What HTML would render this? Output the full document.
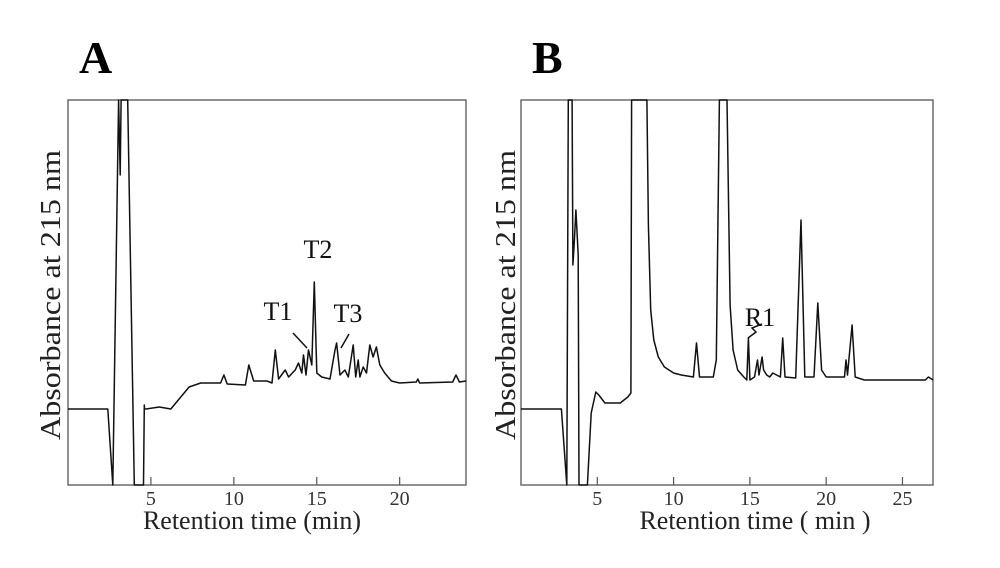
<!DOCTYPE html>
<html><head><meta charset="utf-8"><style>
html,body{margin:0;padding:0;background:#fff;}
svg{display:block;font-family:"Liberation Serif",serif;}
</style></head><body>
<svg id="chart" width="1000" height="568" viewBox="0 0 1000 568"></svg>
<script>
const ticksA = [5,10,15,20];
const ticksB = [5,10,15,20,25];
const timesA = [0,2.4,2.7,3.05,3.15,3.2,3.3,3.6,4.0,4.55,4.6,4.62,4.7,5.5,6.2,6.8,7.3,8,9.2,9.4,9.6,10.7,10.9,11.2,12.0,12.3,12.5,12.7,13.1,13.3,13.7,13.9,14.1,14.2,14.35,14.5,14.7,14.85,15.0,15.3,15.8,16.1,16.2,16.4,16.7,16.9,17.2,17.35,17.5,17.6,17.8,18.0,18.2,18.4,18.6,18.8,19.1,19.5,20,21,21.1,21.2,23.2,23.4,23.6,24];
const valuesA = [76,76,0,385,310,385,385,385,0,0,80,76,76,78,76,88,98,102,102,110,101,100,120,104,104,102,135,106,115,108,115,122,112,130,110,135,120,203,112,108,106,135,142,110,115,108,140,108,125,108,118,112,140,128,138,120,112,104,102,103,106,102,103,110,103,104];
const timesB = [0,2.65,3.0,3.1,3.35,3.4,3.5,3.6,3.75,3.8,4.35,4.6,4.9,5.1,5.5,6.5,7.0,7.2,7.25,8.25,8.35,8.5,8.7,9.0,9.4,10,10.5,11.3,11.5,11.7,12.6,12.8,13.0,13.5,13.7,13.9,14.2,14.6,14.8,14.9,15.0,15.3,15.5,15.6,15.8,15.9,16.1,16.3,16.5,17.0,17.15,17.3,18.0,18.35,18.6,19.2,19.45,19.7,20,21.2,21.3,21.4,21.7,21.9,22.5,24,26.5,26.7,27];
const valuesB = [76,76,0,385,385,220,245,275,230,0,0,72,93,90,82,82,88,92,385,385,260,175,145,128,118,112,110,108,142,108,108,125,385,385,180,135,115,108,105,147,105,108,125,110,128,115,110,108,112,108,147,108,107,265,108,108,182,115,108,108,125,110,160,108,105,105,105,108,105];
const labelsA = ["T1","T2","T3"];
const labelsB = ["R1"];

const NS="http://www.w3.org/2000/svg";
const svg=document.getElementById('chart');
function mk(tag,attrs,parent){const e=document.createElementNS(NS,tag);for(const k in attrs)e.setAttribute(k,attrs[k]);(parent||svg).appendChild(e);return e;}

function panel(cfg){
  const g=mk('g',{});
  
  
  const xs=t=>cfg.x0+(t-cfg.tmin)*(cfg.x1-cfg.x0)/(cfg.tmax-cfg.tmin);
  const ys=v=>cfg.yb-v*(cfg.yb-cfg.yt)/385;
  const frame=mk('rect',{x:cfg.x0,y:cfg.yt,width:cfg.x1-cfg.x0,height:cfg.yb-cfg.yt,fill:'none',stroke:'#555','stroke-width':1.3},g);
  
  
  cfg.ticks.forEach(t=>{
    const l=mk('line',{x1:xs(t),x2:xs(t),y1:cfg.yb,y2:cfg.yb-8,stroke:'#555','stroke-width':1.2},g);
    
    
    const tx=mk('text',{x:xs(t),y:cfg.yb+20,'font-size':20,'text-anchor':'middle',fill:'#333'},g);
    tx.textContent=t;
    
    
  });
  let d='';
  cfg.times.forEach((t,i)=>{d+=(i?'L':'M')+xs(t).toFixed(1)+','+ys(cfg.values[i]).toFixed(1)+' ';});
  const p=mk('path',{d:d,fill:'none',stroke:'#111','stroke-width':1.5,'stroke-linejoin':'round'},g);
  
  
  const xl=mk('text',{x:cfg.xlx,y:529,'font-size':26,'text-anchor':'middle',fill:'#222'},g);
  xl.textContent=cfg.xlabel;
  
  
  const yl=mk('text',{x:0,y:0,'font-size':29,'text-anchor':'middle',fill:'#222',textLength:290,lengthAdjust:'spacingAndGlyphs',transform:'translate('+cfg.ylx+',295) rotate(-90)'},g);
  yl.textContent='Absorbance at 215 nm';
  
  
  const tt=mk('text',{x:cfg.tx,y:73,'font-size':46,'font-weight':'bold',fill:'#000'},g);
  tt.textContent=cfg.title;
  
  
  return {g,xs,ys};
}

const A=panel({name:'panel-a',x0:68,x1:466,yt:100,yb:485,tmin:0,tmax:24,ticks:ticksA,times:timesA,values:valuesA,xlabel:'Retention time (min)',xlx:252,ylx:60,tx:79,title:'A'});
const B=panel({name:'panel-b',x0:521,x1:933,yt:100,yb:485,tmin:0,tmax:27,ticks:ticksB,times:timesB,values:valuesB,xlabel:'Retention time ( min )',xlx:755,ylx:515,tx:532,title:'B'});

const annA=[[278,320],[318,258],[348,322]];
labelsA.forEach((s,i)=>{
  const t=mk('text',{x:annA[i][0],y:annA[i][1],'font-size':26,'text-anchor':'middle',fill:'#111'},A.g);
  t.textContent=s;
  
  
});
const l1=mk('line',{x1:293,y1:333,x2:307,y2:348,stroke:'#111','stroke-width':1.5},A.g);


const l3=mk('line',{x1:349,y1:334,x2:341,y2:348,stroke:'#111','stroke-width':1.5},A.g);


labelsB.forEach(s=>{
  const t=mk('text',{x:760,y:326,'font-size':26,'text-anchor':'middle',fill:'#111'},B.g);
  t.textContent=s;
  
  
});
const lr=mk('path',{d:'M748,338 L756,332 L752,328 L762,324',fill:'none',stroke:'#111','stroke-width':1.5},B.g);


</script>
</body></html>
